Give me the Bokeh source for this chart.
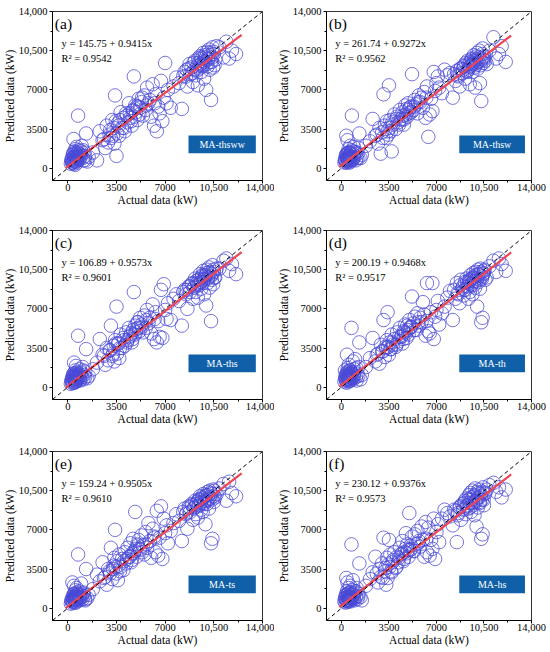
from bokeh.plotting import figure
from bokeh.layouts import gridplot
from bokeh.models import Range1d, FixedTicker, Slope, Label, BoxAnnotation
from bokeh.embed import file_html
from bokeh.resources import INLINE

# ---------------- data ----------------
panel_letters = ["(a)", "(b)", "(c)", "(d)", "(e)", "(f)"]
model_names = ["MA-thsww", "MA-thsw", "MA-ths", "MA-th", "MA-ts", "MA-hs"]
intercepts = [145.75, 261.74, 106.89, 200.19, 159.24, 230.12]
slopes = [0.9415, 0.9272, 0.9573, 0.9468, 0.9505, 0.9376]
r2_values = [0.9542, 0.9562, 0.9601, 0.9517, 0.9610, 0.9573]

tick_values = [0, 3500, 7000, 10500, 14000]
tick_labels = ["0", "3500", "7000", "10,500", "14,000"]
minor_tick_values = [1750, 5250, 8750, 12250]

# actual data (shared by all models)
x_low = [220, 260, 300, 330, 360, 390, 410, 430, 450, 470, 490, 510, 530, 550, 570, 590, 610, 630,
         650, 680, 710, 740, 770, 800, 840, 880, 920, 960, 1000, 1060, 1120, 1180, 1250, 1320, 1400, 1500]
x_low2 = [280, 340, 380, 420, 460, 500, 540, 580, 620, 660, 700, 760, 820, 900, 1100, 1250]
x_mid = [1800, 2100, 2300, 2500, 2700, 2800, 2900, 3000, 3100, 3200, 3300, 3350, 3400, 3500, 3550,
         3600, 3700, 3800, 3900, 4000, 4100, 4200, 4300, 4400, 4500, 4600, 4700, 4750, 4800, 4850,
         4900, 5000, 5100, 5200, 5300, 5400, 5500, 5600, 5700, 5800, 5900, 6000, 6100, 6200, 6300,
         6400, 6500, 6600, 6700, 6800, 6900, 7000, 7100, 7200, 7400, 7600, 7800, 3450, 4450, 5050]
x_mid2 = [2600, 3050, 3250, 3650, 3750, 4050, 4250, 4550, 4650, 4950, 5150, 5350, 5650, 6250]
x_high = [8000, 8200, 8400, 8500, 8600, 8700, 8800, 8900, 9000, 9100, 9150, 9200, 9300, 9350, 9400,
          9450, 9500, 9550, 9600, 9650, 9700, 9750, 9800, 9850, 9900, 9950, 10000, 10050, 10100,
          10150, 10200, 10250, 10300, 10350, 10400, 10450, 10500, 10600]
x_high2 = [8300, 8550, 8750, 8950, 9050, 9250, 9380, 9480, 9580, 9680, 9780, 9880, 9980, 10080,
           10180, 10280, 10380, 10480, 10550, 10700]
x_top = [10900, 11200, 11400, 11600, 11800, 12100]

# predicted data, panel (a) MA-thsww
a_low = [400, 700, 500, 900, 1200, 600, 2600, 1000, 400, 1500, 800, 1100, 300, 1700, 900, 1300, 600, 1900,
         1000, 700, 1400, 4700, 1100, 1600, 800, 1200, 1000, 1500, 2000, 900, 700, 1400, 1100, 3100, 600, 1000]
a_low2 = [800, 500, 1300, 700, 1000, 600, 1400, 900, 1200, 500, 1000, 800, 1300, 1100, 1600, 700]
a_mid = [1400, 700, 3300, 2500, 1800, 3800, 2300, 3000, 2700, 4300, 3600, 2200, 6500, 1100, 3100,
         4000, 2900, 5000, 3600, 4500, 3300, 4900, 4100, 5800, 4500, 3800, 5200, 8200, 4600, 5600,
         5000, 4300, 6200, 5400, 5900, 4700, 6500, 5200, 7200, 5800, 6100, 4600, 7500, 3800, 6600,
         3300, 5500, 4900, 7800, 4200, 6300, 9400, 5800, 7000, 5400, 7300, 8100, 4200, 4900, 5500]
a_mid2 = [2600, 3400, 2900, 3800, 4300, 3600, 4700, 4200, 5100, 5500, 4800, 6300, 5600, 5800]
a_high = [7600, 5300, 8600, 8200, 7300, 8900, 8400, 9000, 7700, 8800, 9600, 8300, 9100, 7400, 9400,
          8900, 10000, 9300, 8600, 9800, 9200, 10300, 8000, 9500, 9900, 7000, 10400, 9100, 9700,
          10600, 8800, 10100, 6100, 9500, 10800, 9000, 10200, 9700]
a_high2 = [8200, 8800, 9300, 8500, 9400, 8700, 9800, 9200, 9900, 9100, 9600, 10100, 9300, 9800,
           10300, 9500, 9900, 10400, 9200, 10900]
a_top = [10800, 9900, 11300, 9800, 10500, 10200]

# panel (b) MA-thsw
b_low = [500, 800, 600, 1100, 2900, 700, 1300, 900, 2500, 1200, 600, 1000, 1700, 800, 1400, 500, 1100, 900,
         2000, 1300, 700, 1000, 4700, 1500, 800, 1200, 1900, 1000, 1400, 700, 900, 1300, 1800, 3100, 900, 1200]
b_low2 = [700, 1200, 500, 1000, 800, 1400, 700, 1100, 600, 1300, 900, 1600, 700, 1000, 1400, 900]
b_mid = [2000, 2400, 4400, 2900, 2200, 3600, 1300, 3200, 6600, 3800, 2700, 4200, 3300, 7400, 3600,
         4300, 1500, 3900, 4800, 3500, 4600, 4100, 5200, 4400, 5000, 3900, 5600, 4800, 5300, 4600,
         5800, 4900, 5500, 8400, 5200, 6100, 5700, 4900, 6500, 5900, 6300, 5400, 6800, 4500, 7300,
         2800, 4800, 6200, 5100, 8600, 6900, 7600, 8200, 7200, 6700, 8800, 8300, 3000, 4300, 5400]
b_mid2 = [3000, 2700, 3500, 3300, 4100, 4400, 3900, 4700, 4400, 5200, 5000, 5500, 5900, 6300]
b_high = [8500, 6300, 7800, 8700, 8200, 7300, 8900, 8500, 9100, 8000, 9400, 8700, 9600, 8800, 9000,
          7500, 9500, 9200, 9800, 8600, 9300, 10100, 9000, 7200, 9700, 9400, 10300, 8900, 9900,
          10500, 7600, 9200, 6000, 9800, 10700, 9400, 10000, 9600]
b_high2 = [8400, 8300, 8900, 8800, 9200, 8600, 9300, 9100, 9700, 9400, 9600, 9200, 10000, 9500,
           9800, 9600, 10200, 9700, 9900, 9300]
b_top = [10500, 11700, 9800, 10200, 10900, 9500]

# panel (c) MA-ths
c_low = [300, 600, 400, 800, 1000, 500, 1200, 700, 2200, 900, 400, 1100, 600, 1500, 800, 1900, 500, 1000,
         1300, 700, 900, 4600, 1100, 800, 1600, 600, 1000, 1300, 900, 1800, 700, 1100, 1400, 3400, 800, 1000]
c_low2 = [600, 900, 400, 1200, 700, 1000, 500, 1300, 800, 1100, 600, 900, 1200, 700, 1500, 900]
c_mid = [1600, 2200, 4300, 2900, 2000, 3500, 2400, 3300, 5500, 2800, 3700, 2300, 4200, 7200, 3000,
         3900, 2600, 4700, 3500, 4400, 3700, 4900, 4200, 5300, 4600, 4000, 5100, 8500, 4700, 5500,
         4900, 5800, 5300, 6200, 5600, 4900, 6400, 5300, 6900, 5700, 6200, 4800, 7400, 4300, 6700,
         4000, 5900, 4500, 8700, 4400, 9200, 6900, 6100, 7500, 6000, 7900, 8300, 3900, 4500, 5800]
c_mid2 = [2800, 3300, 3000, 3900, 3500, 4200, 4000, 4800, 4300, 5200, 5000, 5400, 6000, 6100]
c_high = [7700, 5500, 8700, 8300, 7000, 9000, 8500, 9200, 7900, 8900, 9700, 8500, 9300, 8000, 9600,
          9100, 10100, 9400, 8800, 9900, 9300, 10400, 8300, 9700, 10000, 7300, 10500, 9300, 9800,
          10700, 8900, 10200, 5900, 9600, 10900, 9200, 10300, 9800]
c_high2 = [8500, 8700, 9000, 9300, 8900, 9500, 9200, 9700, 9400, 10000, 9600, 9900, 10200, 9700,
           10300, 9900, 10100, 10500, 9800, 10600]
c_top = [10600, 11300, 11500, 10400, 11000, 10100]

# panel (d) MA-th
d_low = [500, 1500, 700, 900, 1200, 400, 2900, 1000, 600, 1700, 800, 1300, 500, 2000, 900, 1100, 700, 1500,
         1000, 600, 1300, 5300, 800, 1200, 2300, 700, 1000, 1600, 2500, 900, 600, 1200, 1800, 4000, 700, 1100]
d_low2 = [900, 600, 1100, 800, 1400, 700, 1000, 1200, 600, 1500, 900, 1300, 800, 1100, 1700, 1000]
d_mid = [1800, 2600, 4400, 2300, 3000, 2100, 3800, 3200, 6000, 2700, 3500, 4200, 6700, 2900, 4000,
         3400, 4700, 3800, 4300, 3600, 4900, 4100, 5300, 4500, 3900, 5000, 5600, 4800, 4400, 5500,
         5100, 6000, 5400, 8100, 5700, 6300, 5100, 6600, 5500, 6200, 5800, 7600, 6500, 4600, 9300,
         5000, 4800, 6700, 9300, 4300, 6300, 6900, 7700, 5600, 6600, 7200, 8000, 3600, 4600, 5300]
d_mid2 = [2900, 3200, 3600, 3400, 4000, 3800, 4500, 4300, 4900, 4700, 5400, 5100, 5800, 5900]
d_high = [8600, 6000, 7900, 9300, 8300, 7500, 9600, 8800, 8200, 9400, 8700, 9700, 9000, 7900, 9500,
          8500, 10000, 9200, 9700, 8300, 10200, 9100, 9800, 8900, 10300, 9500, 7200, 10500, 9400,
          10000, 8800, 10600, 5800, 9700, 6200, 10100, 10400, 9600]
d_high2 = [8700, 8400, 9100, 9000, 8700, 9400, 9300, 9600, 9100, 9800, 9500, 10000, 9700, 10100,
           9600, 10300, 9900, 10200, 10500, 9800]
d_top = [10800, 11300, 10300, 11500, 11000, 10400]

# panel (e) MA-ts
e_low = [400, 700, 500, 2300, 900, 600, 1200, 800, 2000, 1000, 500, 1300, 700, 1600, 900, 500, 1100, 1800,
         800, 1300, 700, 4800, 1000, 1500, 700, 1200, 900, 2200, 1000, 800, 1400, 1100, 700, 3500, 900, 1200]
e_low2 = [700, 1000, 600, 900, 1300, 800, 1100, 600, 1000, 1400, 800, 1200, 900, 1000, 1300, 800]
e_mid = [1700, 3000, 2400, 4100, 2800, 2100, 3500, 3300, 5400, 2600, 3800, 4500, 7000, 3100, 4200,
         2500, 4800, 3700, 4400, 3400, 5000, 4000, 5400, 4600, 5800, 4300, 6200, 4900, 5100, 8600,
         5300, 5700, 6100, 5200, 6500, 5600, 4800, 6800, 5400, 7600, 6000, 4500, 7100, 6400, 5000,
         8700, 4700, 6300, 9100, 4400, 8000, 6700, 7400, 5800, 6900, 7600, 8400, 3700, 4600, 5600]
e_mid2 = [2700, 3100, 3500, 3800, 3300, 4200, 4400, 4100, 4900, 4600, 5300, 5000, 5700, 6300]
e_high = [7800, 6000, 8900, 8400, 7100, 9100, 8600, 9300, 7900, 9000, 9600, 8400, 9500, 8100, 9700,
          9200, 10000, 9400, 8800, 9900, 8600, 10200, 9300, 9600, 7500, 10100, 9300, 10400, 9700,
          8900, 10500, 9800, 5800, 10200, 6200, 10600, 9500, 9900]
e_high2 = [8600, 8500, 9000, 9200, 8900, 9300, 9100, 9700, 9500, 9800, 9400, 10000, 9600, 10100,
           9900, 10300, 9700, 10000, 10500, 10200]
e_top = [10700, 11100, 9600, 11300, 10300, 10000]

# panel (f) MA-hs
f_low = [600, 900, 500, 1200, 2700, 700, 1500, 1000, 2300, 800, 1300, 600, 1800, 1000, 700, 1400, 900, 2000,
         600, 1200, 1000, 5700, 800, 1600, 2500, 900, 1200, 700, 1500, 1000, 1800, 800, 1300, 4000, 1000, 700]
f_low2 = [900, 700, 1200, 600, 1000, 1300, 800, 1100, 700, 1000, 1400, 900, 1200, 800, 1500, 1100]
f_mid = [2000, 2600, 3200, 4600, 2300, 3500, 2800, 4000, 6300, 3300, 2100, 4500, 2700, 6100, 3700,
         4800, 3200, 4300, 5000, 3600, 4600, 4100, 5400, 4800, 6000, 4400, 5300, 6700, 4900, 5700,
         5200, 8500, 5600, 6400, 5100, 6600, 5700, 6900, 6000, 5500, 7300, 6100, 4600, 7700, 5000,
         7200, 4700, 6100, 5300, 8000, 4400, 6800, 7500, 5900, 8000, 8800, 8500, 3900, 4900, 5200]
f_mid2 = [3100, 2700, 3600, 3300, 4100, 3700, 4500, 4200, 5000, 4600, 5300, 5100, 5800, 6200]
f_high = [8200, 7400, 8700, 5900, 8500, 9000, 7900, 9300, 8800, 9600, 8400, 9800, 9100, 8900, 10100,
          9400, 10300, 8600, 9700, 10500, 9200, 10000, 8300, 10700, 9500, 7300, 10400, 9000, 9900,
          10600, 9400, 10200, 6200, 9700, 6600, 10800, 9200, 10300]
f_high2 = [8800, 8300, 9100, 8900, 9400, 9200, 9700, 9000, 9900, 9400, 10100, 9600, 9800, 10300,
           9500, 10000, 10400, 9700, 10200, 10600]
f_top = [11000, 11200, 10400, 10800, 9900, 10600]

actual = x_low + x_low2 + x_mid + x_mid2 + x_high + x_high2 + x_top
predicted_sets = [
    a_low + a_low2 + a_mid + a_mid2 + a_high + a_high2 + a_top,
    b_low + b_low2 + b_mid + b_mid2 + b_high + b_high2 + b_top,
    c_low + c_low2 + c_mid + c_mid2 + c_high + c_high2 + c_top,
    d_low + d_low2 + d_mid + d_mid2 + d_high + d_high2 + d_top,
    e_low + e_low2 + e_mid + e_mid2 + e_high + e_high2 + e_top,
    f_low + f_low2 + f_mid + f_mid2 + f_high + f_high2 + f_top,
]
for k, ps in enumerate(predicted_sets):
    if len(ps) != len(actual):
        raise ValueError(f"panel {k}: {len(ps)} vs {len(actual)}")

# ---------------- style ----------------
FONT = "Liberation Serif"
CIRCLE_COLOR = "#4848d6"
RED = "#ee4453"
BOX_BLUE = "#0f60a8"
FIT_X = (-150, 12500)

col_w = [274, 275]
col_bl = [52, 48]
col_br = [12, 18]
row_h = [219, 221, 211]
row_bt = [11, 11, 11]
row_bb = [39, 41, 31]


def make_panel(i):
    r, c = divmod(i, 2)
    p = figure(width=col_w[c], height=row_h[r], output_backend="svg", toolbar_location=None,
               x_range=Range1d(-1100, 14000), y_range=Range1d(-1100, 14000),
               min_border_left=col_bl[c], min_border_right=col_br[c],
               min_border_top=row_bt[r], min_border_bottom=row_bb[r])
    p.background_fill_color = "white"
    p.border_fill_color = "white"
    p.outline_line_color = "#333333"
    p.outline_line_width = 1
    p.xgrid.visible = False
    p.ygrid.visible = False

    for ax in (p.xaxis[0], p.yaxis[0]):
        ax.ticker = FixedTicker(ticks=tick_values, minor_ticks=minor_tick_values)
        ax.major_label_overrides = dict(zip(tick_values, tick_labels))
        ax.major_label_text_font = FONT
        ax.major_label_text_font_size = "10.5px"
        ax.major_label_text_color = "black"
        ax.axis_label_text_font = FONT
        ax.axis_label_text_font_size = "11.5px"
        ax.axis_label_text_font_style = "normal"
        ax.axis_label_text_color = "black"
        ax.axis_line_color = "black"
        ax.axis_line_width = 1
        ax.major_tick_in = 0
        ax.major_tick_out = 3
        ax.minor_tick_in = 0
        ax.minor_tick_out = 2
        ax.major_tick_line_color = "black"
        ax.minor_tick_line_color = "black"
        ax.axis_label_standoff = 0
    p.xaxis[0].major_label_standoff = 0
    p.yaxis[0].major_label_standoff = 2
    p.xaxis[0].axis_label = "Actual data (kW)"
    p.yaxis[0].axis_label = "Predicted data (kW)"

    p.scatter(actual, predicted_sets[i], marker="circle", size=13.5, fill_color=None,
              line_color=CIRCLE_COLOR, line_width=0.9, line_alpha=0.85)

    a, b = intercepts[i], slopes[i]
    p.line([FIT_X[0], FIT_X[1]], [a + b * FIT_X[0], a + b * FIT_X[1]], line_color=RED, line_width=2.2)
    p.add_layout(Slope(gradient=1, y_intercept=0, line_color="black", line_width=1, line_dash="4 3"))

    p.add_layout(BoxAnnotation(left=8680, right=13520, bottom=1340, top=2920,
                               fill_color=BOX_BLUE, fill_alpha=1, line_color=None))
    p.add_layout(Label(x=11100, y=2130, text=model_names[i], text_font=FONT, text_font_size="10px",
                       text_color="white", text_align="center", text_baseline="middle"))
    p.add_layout(Label(x=-930, y=12900, text=panel_letters[i], text_font=FONT, text_font_size="15.5px",
                       text_color="black", text_align="left", text_baseline="middle"))
    p.add_layout(Label(x=-450, y=11150, text=f"y = {a:.2f} + {b:.4f}x", text_font=FONT,
                       text_font_size="10.5px", text_color="black", text_align="left",
                       text_baseline="middle"))
    p.add_layout(Label(x=-450, y=9780, text=f"R\u00b2 = {r2_values[i]:.4f}", text_font=FONT,
                       text_font_size="10.5px", text_color="black", text_align="left",
                       text_baseline="middle"))
    return p


panels = [make_panel(i) for i in range(6)]
grid = gridplot([[panels[0], panels[1]], [panels[2], panels[3]], [panels[4], panels[5]]],
                toolbar_location=None)

open("out.html", "w").write(file_html(grid, INLINE))
